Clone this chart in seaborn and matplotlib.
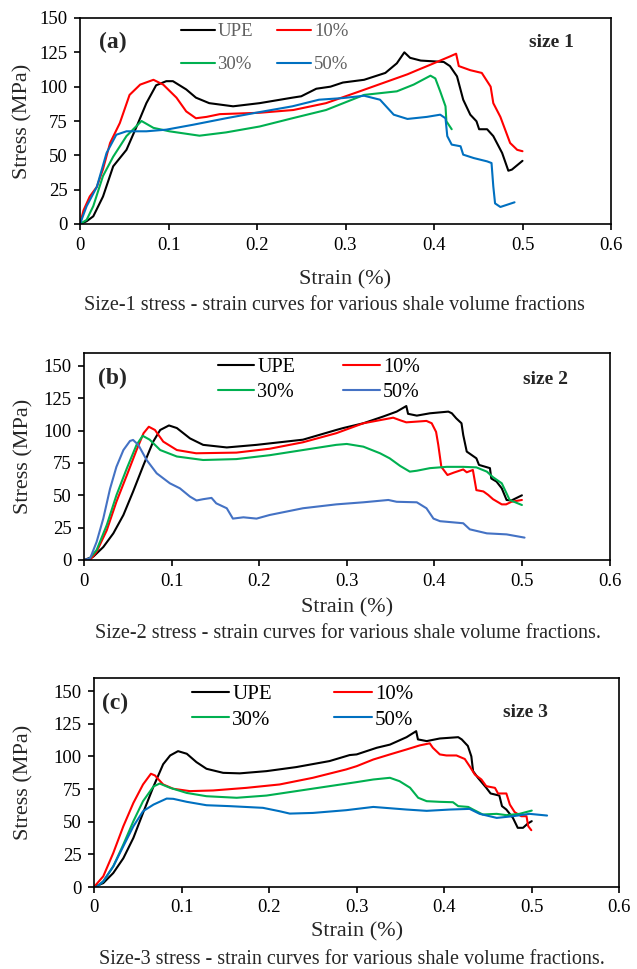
import numpy as np
import pandas as pd
import seaborn as sns
import matplotlib
matplotlib.use("Agg")
import matplotlib.pyplot as plt
from matplotlib.ticker import FuncFormatter

# ---- size 1 (panel a) ----
a_upe_x = [0, 0.0075, 0.015, 0.026, 0.0375, 0.0525, 0.064, 0.075, 0.086, 0.0975, 0.105, 0.12, 0.131, 0.146, 0.173,
           0.203, 0.24, 0.25, 0.267, 0.283, 0.297, 0.321, 0.345, 0.358, 0.3665, 0.373, 0.385, 0.411, 0.418, 0.426,
           0.433, 0.441, 0.448, 0.451, 0.46, 0.467, 0.477, 0.484, 0.488, 0.5]
a_upe_y = [0, 2, 5.6, 20, 42, 54, 71, 88, 101, 104, 104, 98, 92, 88, 85.7, 88, 92, 93, 98.5, 100, 103, 105, 110,
           117, 125, 121, 119, 118, 115, 107.5, 90.5, 79.6, 74.8, 69, 69, 64, 51.7, 38.8, 39.6, 46]
a_red_x = [0, 0.004, 0.011, 0.019, 0.026, 0.034, 0.045, 0.056, 0.068, 0.083, 0.094, 0.109, 0.12, 0.131, 0.143,
           0.158, 0.203, 0.241, 0.278, 0.316, 0.37, 0.381, 0.396, 0.418, 0.425, 0.428, 0.441, 0.454, 0.464, 0.467,
           0.475, 0.486, 0.494, 0.5]
a_red_y = [0, 10, 20, 27, 40, 59, 73.5, 94, 101.5, 105, 101.5, 92, 82, 77, 78, 80, 81, 83, 88, 96.6, 109, 112, 116,
           122, 124, 115, 112, 110, 100, 88, 78, 59, 54, 53]
a_green_x = [0, 0.0075, 0.015, 0.026, 0.0375, 0.0525, 0.0695, 0.083, 0.101, 0.135, 0.165, 0.203, 0.24, 0.278,
             0.321, 0.358, 0.377, 0.396, 0.4015, 0.407, 0.413, 0.414, 0.42]
a_green_y = [0, 3, 13, 35, 49, 64, 75, 70, 67.5, 64.3, 66.7, 71, 77, 83, 94, 96.6, 101.5, 108, 106, 96.6, 85.7,
             74.8, 69]
a_blue_x = [0, 0.0075, 0.019, 0.03, 0.041, 0.0525, 0.075, 0.0975, 0.128, 0.165, 0.203, 0.24, 0.27, 0.297, 0.321,
            0.339, 0.3545, 0.37, 0.392, 0.407, 0.413, 0.415, 0.42, 0.43, 0.433, 0.445, 0.46, 0.465, 0.467, 0.469,
            0.475, 0.491]
a_blue_y = [0, 13, 27, 51.7, 65, 67.5, 67.5, 68.7, 72.3, 77, 81.5, 85.7, 90.5, 91.7, 93.4, 90.5, 79.6, 76.5, 78,
            79.6, 77, 64, 57.8, 56.6, 50.5, 48, 45.6, 44.4, 27.4, 15, 12.4, 15.8]

# ---- size 2 (panel b) ----
b_upe_x = [0, 0.0106, 0.022, 0.0335, 0.045, 0.056, 0.068, 0.079, 0.087, 0.097, 0.106, 0.121, 0.136, 0.163, 0.197,
           0.25, 0.288, 0.296, 0.319, 0.342, 0.357, 0.368, 0.37, 0.38, 0.395, 0.416, 0.42, 0.425, 0.431, 0.433,
           0.437, 0.448, 0.451, 0.4635, 0.465, 0.471, 0.477, 0.4825, 0.488, 0.494, 0.5]
b_upe_y = [0, 2.6, 10, 20.6, 34.8, 52.8, 73.5, 91.5, 100.5, 104, 102, 94, 89, 87, 89, 93, 100.5, 102, 105.7, 111,
           114.7, 119, 113, 111.6, 113.4, 114.7, 113.4, 109.5, 105.7, 96.6, 83.8, 78.6, 73.5, 71, 63, 60.6, 55.4,
           46.4, 46, 48, 50]
b_red_x = [0, 0.007, 0.0144, 0.026, 0.037, 0.049, 0.06, 0.068, 0.074, 0.081, 0.0905, 0.106, 0.128, 0.174, 0.212,
           0.25, 0.288, 0.319, 0.353, 0.361, 0.368, 0.391, 0.397, 0.402, 0.4045, 0.408, 0.415, 0.422, 0.433, 0.437,
           0.444, 0.448, 0.456, 0.4615, 0.467, 0.477, 0.482, 0.488, 0.5]
b_red_y = [0, 0, 6.4, 23, 45, 65.7, 85, 98, 103, 100.5, 91.5, 85, 82.5, 83, 86, 91, 98, 105.7, 110, 108, 106.4,
           107.5, 105.7, 99, 89, 72, 65.7, 67.5, 70, 67.8, 69.6, 54, 53, 50.3, 47, 43, 43, 45, 46.4]
b_green_x = [0, 0.005, 0.0144, 0.026, 0.037, 0.049, 0.06, 0.067, 0.075, 0.087, 0.106, 0.136, 0.174, 0.212, 0.25,
             0.288, 0.3, 0.319, 0.338, 0.349, 0.361, 0.372, 0.38, 0.395, 0.414, 0.433, 0.448, 0.46, 0.467, 0.477,
             0.486, 0.5]
b_green_y = [0, 0, 7.7, 27, 50, 71, 89, 96, 93, 85, 80, 77.3, 78, 81, 85, 89, 89.7, 87.6, 82.5, 78.6, 72.7, 68.3,
             69, 71, 72, 72, 71.6, 68.3, 64, 59.3, 46.4, 42.5]
b_blue_x = [0, 0.007, 0.0144, 0.022, 0.0297, 0.037, 0.045, 0.0525, 0.056, 0.062, 0.0715, 0.083, 0.098, 0.1095,
            0.121, 0.1285, 0.136, 0.1456, 0.151, 0.163, 0.17, 0.182, 0.197, 0.212, 0.25, 0.288, 0.319, 0.3475,
            0.357, 0.38, 0.391, 0.399, 0.4065, 0.433, 0.4405, 0.46, 0.4825, 0.503]
b_blue_y = [0, 1.3, 14, 32, 55, 72, 85, 92, 92.8, 89, 77.3, 67, 59.3, 55.4, 49, 46, 47, 48, 43.8, 40, 32, 33, 32,
            34.8, 40, 43, 44.6, 46.4, 45, 44.6, 40, 32, 30, 28.4, 23.7, 20.6, 19.8, 17.3]

# ---- size 3 (panel c) ----
c_upe_x = [0, 0.0106, 0.022, 0.0335, 0.045, 0.056, 0.068, 0.079, 0.087, 0.096, 0.106, 0.117, 0.1285, 0.1475,
           0.1665, 0.197, 0.231, 0.269, 0.292, 0.3, 0.323, 0.338, 0.357, 0.368, 0.37, 0.38, 0.395, 0.416, 0.42,
           0.427, 0.431, 0.433, 0.4385, 0.448, 0.453, 0.463, 0.466, 0.471, 0.4785, 0.484, 0.49, 0.4955, 0.5]
c_upe_y = [0, 3, 10.7, 22, 37.6, 56.7, 77, 94, 100.7, 104, 102, 95.6, 90.5, 87.4, 87, 88.7, 91.8, 96.4, 101, 101.5,
           106.6, 109, 114.7, 119.3, 113, 111.7, 113.7, 114.7, 113, 108, 100, 88.7, 83.6, 76, 71.6, 70, 61.9,
           59.3, 52.9, 45.3, 45.3, 48.6, 50.4]
c_red_x = [0, 0.0106, 0.022, 0.0335, 0.045, 0.056, 0.065, 0.0696, 0.079, 0.0905, 0.1095, 0.136, 0.174, 0.212,
           0.25, 0.288, 0.3, 0.319, 0.338, 0.357, 0.372, 0.3835, 0.387, 0.395, 0.4025, 0.414, 0.4235, 0.429,
           0.435, 0.4425, 0.448, 0.458, 0.4615, 0.471, 0.475, 0.4805, 0.488, 0.494, 0.496, 0.4995]
c_red_y = [0, 8.2, 26, 46.5, 64.4, 78.5, 86.7, 85.4, 78.5, 75.2, 73.4, 73.9, 75.9, 78.5, 83.6, 90, 92.5, 97.6,
           101.5, 105.3, 108.4, 110, 106.6, 101.5, 100.7, 100.7, 98, 92.5, 86.1, 82.3, 77.2, 75.9, 71.6, 71.6,
           63.1, 57.3, 54.2, 54.2, 46.5, 43.5]
c_green_x = [0, 0.003, 0.0106, 0.022, 0.0335, 0.045, 0.056, 0.068, 0.075, 0.087, 0.106, 0.1285, 0.163, 0.197,
             0.231, 0.269, 0.3, 0.319, 0.338, 0.349, 0.361, 0.3703, 0.38, 0.395, 0.41, 0.416, 0.4274, 0.433, 0.444,
             0.46, 0.471, 0.486, 0.5]
c_green_y = [0, 0, 4.3, 15.8, 32.5, 50.4, 65.7, 77, 79.2, 75.9, 72, 69.5, 68.3, 70, 73.4, 77.2, 80.3, 82.3, 83.6,
             81, 76, 68.3, 65.7, 65.2, 64.9, 61.9, 61.3, 59.3, 55.5, 56, 55, 56, 58.5]
c_blue_x = [0, 0.003, 0.0106, 0.022, 0.0335, 0.045, 0.056, 0.068, 0.083, 0.0905, 0.106, 0.1285, 0.155, 0.193,
            0.212, 0.2236, 0.25, 0.288, 0.319, 0.357, 0.38, 0.4065, 0.429, 0.4405, 0.46, 0.4785, 0.4975, 0.5175]
c_blue_y = [0, 0, 4.3, 15.8, 31.2, 46.5, 58, 63.1, 67.7, 67.5, 65.2, 62.6, 61.9, 60.6, 58, 56.2, 56.7, 58.8,
            61.3, 59.3, 58.3, 59.3, 59.8, 56, 52.9, 54.2, 56, 54.7]

labels = ["UPE", "10%", "30%", "50%"]
captions = ["Size-1 stress - strain curves for various shale volume fractions",
            "Size-2 stress - strain curves for various shale volume fractions.",
            "Size-3 stress - strain curves for various shale volume fractions."]

panels = [
    dict(tag="(a)", size="size 1",
         data=[(a_upe_x, a_upe_y), (a_red_x, a_red_y), (a_green_x, a_green_y), (a_blue_x, a_blue_y)],
         colors=["#000000", "#ff0000", "#00b050", "#0070c0"],
         rect=[80, 18, 611, 224], ytop=150, legfs=13.5, legcol="#606060",
         leg_anchor=(0.19, 0.975), colspace=1.3, labspace=0.85,
         tagpos=(0.036, 0.879), sizepos=(0.846, 0.879),
         ylab_x=-0.089, xlab_y=-0.225, cap=(334, 306)),
    dict(tag="(b)", size="size 2",
         data=[(b_upe_x, b_upe_y), (b_red_x, b_red_y), (b_green_x, b_green_y), (b_blue_x, b_blue_y)],
         colors=["#000000", "#ff0000", "#00b050", "#4472c4"],
         rect=[84, 353, 609.5, 560], ytop=160, legfs=14.5, legcol="#000000",
         leg_anchor=(0.255, 0.975), colspace=2.4, labspace=0.3,
         tagpos=(0.026, 0.879), sizepos=(0.835, 0.87),
         ylab_x=-0.097, xlab_y=-0.185, cap=(348, 633)),
    dict(tag="(c)", size="size 3",
         data=[(c_upe_x, c_upe_y), (c_red_x, c_red_y), (c_green_x, c_green_y), (c_blue_x, c_blue_y)],
         colors=["#000000", "#ff0000", "#00b050", "#0070c0"],
         rect=[94, 678, 619.3, 887], ytop=160, legfs=15, legcol="#000000",
         leg_anchor=(0.186, 0.97), colspace=3.0, labspace=0.3,
         tagpos=(0.015, 0.88), sizepos=(0.779, 0.837),
         ylab_x=-0.116, xlab_y=-0.168, cap=(352, 959)),
]

sns.set_style("ticks")
plt.rcParams["font.family"] = ["Liberation Serif", "DejaVu Serif"]
plt.rcParams["axes.linewidth"] = 1.2

W, H = 637, 969
fig = plt.figure(figsize=(W / 100, H / 100), dpi=100)

for p in panels:
    x0, y0, x1, y1 = p["rect"]
    ax = fig.add_axes([x0 / W, 1 - y1 / H, (x1 - x0) / W, (y1 - y0) / H])
    for (xs, ys), lab, col in zip(p["data"], labels, p["colors"]):
        df = pd.DataFrame({"Strain": xs, "Stress": ys})
        sns.lineplot(data=df, x="Strain", y="Stress", sort=False, color=col, linewidth=1.5,
                     label=lab, ax=ax)
    ax.set_xlim(0, 0.6)
    ax.set_ylim(0, p["ytop"])
    ax.set_xticks(np.arange(0, 0.61, 0.1))
    ax.set_yticks(np.arange(0, 151, 25))
    ax.xaxis.set_major_formatter(FuncFormatter(lambda v, pos: "0" if abs(v) < 1e-9 else f"{v:.1f}"))
    ax.tick_params(axis="both", direction="out", length=4, width=1.2, labelsize=13.5, pad=5, colors="black")
    for s in ax.spines.values():
        s.set_visible(True)
        s.set_color("black")
    ax.set_xlabel("Strain (%)", fontsize=16)
    ax.set_ylabel("Stress (MPa)", fontsize=16)
    ax.xaxis.set_label_coords(0.5, p["xlab_y"])
    ax.yaxis.set_label_coords(p["ylab_x"], 0.5)
    # reference fills the legend row-wise: UPE, 10% / 30%, 50%
    handles, labs = ax.get_legend_handles_labels()
    order = [0, 2, 1, 3]
    leg = ax.legend([handles[i] for i in order], [labs[i] for i in order],
                    loc="upper left", bbox_to_anchor=p["leg_anchor"], ncol=2, frameon=False,
                    fontsize=p["legfs"], handlelength=1.8, handletextpad=0.15,
                    columnspacing=p["colspace"], labelspacing=p["labspace"], borderpad=0, borderaxespad=0)
    for t in leg.get_texts():
        t.set_color(p["legcol"])
    ax.text(*p["tagpos"], p["tag"], transform=ax.transAxes, fontsize=17, fontweight="bold",
            ha="left", va="center")
    ax.text(*p["sizepos"], p["size"], transform=ax.transAxes, fontsize=14, fontweight="bold",
            ha="left", va="center")

for cap, p in zip(captions, panels):
    cx, cy = p["cap"]
    fig.text(cx / W, 1 - cy / H, cap, ha="center", va="center", fontsize=14.5)

fig.savefig("out.png", dpi=100)
